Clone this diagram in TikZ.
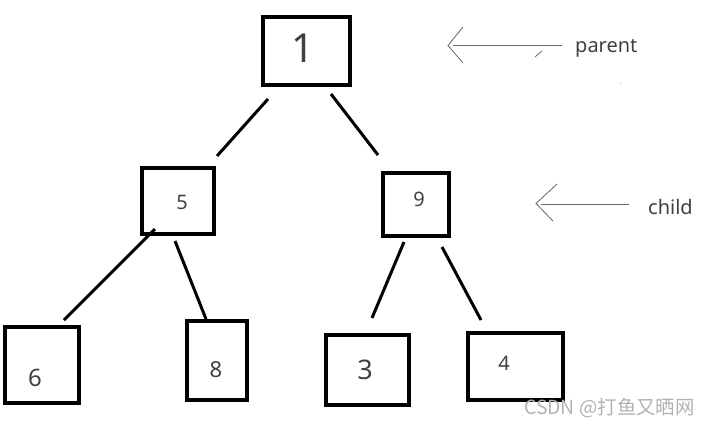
\documentclass[tikz,border=0pt]{standalone}
\usepackage{fontspec}
\setmainfont{Noto Sans}
\newfontfamily\cjk{Noto Sans CJK SC}
\begin{document}
\begin{tikzpicture}[x=1pt,y=-1pt,
  box/.style={draw=black,line width=3.3pt,minimum width=#1,inner sep=0pt},
  lbl/.style={text=black!75,inner sep=0pt,font=\fontsize{#1}{#1}\selectfont},
  edge/.style={line width=3pt,black},
  pointer/.style={line width=0.8pt,black!60},
  word/.style={text=black!75,inner sep=0pt,font=\fontsize{20}{20}\selectfont},
]
\useasboundingbox (0,0) rectangle (710,426);
% boxes
\node[box=87pt,minimum height=68pt] (b1) at (306.5,51) {};
\node[box=72pt,minimum height=66pt] (b5) at (178,201) {};
\node[box=66pt,minimum height=63pt] (b9) at (416,204.5) {};
\node[box=74pt,minimum height=76pt] (b6) at (42,365) {};
\node[box=60pt,minimum height=79pt] (b8) at (217,360.5) {};
\node[box=83pt,minimum height=70pt] (b3) at (367.5,370) {};
\node[box=95pt,minimum height=67pt] (b4) at (515.5,366.5) {};
% numbers
\node[lbl=40] (t1) at (303,48) {1};
\node[lbl=20] (t5) at (182,202) {5};
\node[lbl=20] (t9) at (419,199) {9};
\node[lbl=24] (t6) at (35,378) {6};
\node[lbl=22] (t8) at (216,370) {8};
\node[lbl=27] (t3) at (365,370) {3};
\node[lbl=20] (t4) at (504,363) {4};
% connector ends
\coordinate (e1a) at (268,99);  \coordinate (e1b) at (217,156);
\coordinate (e2a) at (331,94);  \coordinate (e2b) at (378,155);
\coordinate (e3a) at (155,229); \coordinate (e3b) at (64,320);
\coordinate (e4a) at (175,241); \coordinate (e4b) at (206,319);
\coordinate (e5a) at (404,242); \coordinate (e5b) at (372,318);
\coordinate (e6a) at (442,247); \coordinate (e6b) at (481,320);
\draw[edge] (e1a) -- (e1b);
\draw[edge] (e2a) -- (e2b);
\draw[edge] (e3a) -- (e3b);
\draw[edge] (e4a) -- (e4b);
\draw[edge] (e5a) -- (e5b);
\draw[edge] (e6a) -- (e6b);
% pointer arrows
\coordinate (pa) at (562,45); \coordinate (pb) at (453,45);
\coordinate (pt) at (448,45.5);
\coordinate (pu) at (463,27); \coordinate (pd) at (463,63);
\draw[pointer] (pa) -- (pb);
\draw[pointer] (pu) -- (pt) -- (pd);
\coordinate (k1) at (535,57); \coordinate (k2) at (542,51);
\draw[pointer] (k1) -- (k2);
\coordinate (dt) at (621,83);
\fill[black!40] (dt) circle (0.6);
\node[word,anchor=base west] (parent) at (575,52) {parent};
\coordinate (ca) at (629,204); \coordinate (cb) at (541,204);
\coordinate (ct) at (536,203.5);
\coordinate (cu) at (557,184); \coordinate (cd) at (553,221);
\draw[pointer] (ca) -- (cb);
\draw[pointer] (cu) -- (ct) -- (cd);
\node[word,anchor=base west] (child) at (648,214) {child};
% watermark
\node[anchor=west,inner sep=0pt,text=black!30,font=\cjk\fontsize{19.4}{19.4}\selectfont] (wm) at (524,408) {CSDN @打鱼又晒网};
\end{tikzpicture}
\end{document}
